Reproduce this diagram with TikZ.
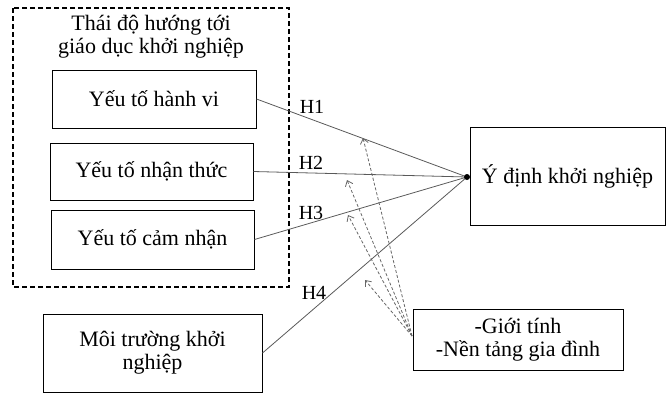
\documentclass[tikz,border=0pt]{standalone}
\usepackage{fontspec}
\setmainfont{Liberation Serif}
\usetikzlibrary{arrows.meta}

\begin{document}
\begin{tikzpicture}[x=1pt,y=-1pt,
    box/.style={draw, line width=1pt, inner sep=0pt, align=center,
      font=\fontsize{22}{23}\selectfont},
    link/.style={draw=black!65, line width=0.8pt},
    ctrl/.style={draw=black!60, dash pattern=on 3pt off 2pt, line width=0.8pt,
      -{Straight Barb[length=5pt,width=8pt]}},
    hlab/.style={font=\fontsize{20}{22}\selectfont}]
    \useasboundingbox (0,0) rectangle (669,394);
    % group of attitude factors
    \draw[dash pattern=on 5pt off 3pt, line width=1.3pt] (13,8) rectangle (289,287);
    \node[align=center, font=\fontsize{22}{23}\selectfont] (grp) at (151,37)
        {Thái độ hướng tới\\giáo dục khởi nghiệp};
    \node[box, minimum width=204pt, minimum height=58pt] (hv) at (154,99) {Yếu tố hành vi};
    \node[box, minimum width=203pt, minimum height=57pt] (nt) at (151.5,171.5) {Yếu tố nhận thức};
    \node[box, minimum width=203pt, minimum height=59pt] (cn) at (152.5,239.5) {Yếu tố cảm nhận};
    \node[box, minimum width=219pt, minimum height=78pt] (mt) at (152.5,353) {Môi trường khởi\\nghiệp};
    % outcome and controls
    \node[box, minimum width=195pt, minimum height=98pt] (yd) at (567.5,176) {Ý định khởi nghiệp};
    \node[box, minimum width=210pt, minimum height=61pt] (kt) at (518,339.5) {-Giới tính\\-Nền tảng gia đình};
    \coordinate (dot) at (467,177);
    \coordinate (src) at (412,336);
    \coordinate (m1) at (363,138);
    \coordinate (m2) at (347,180);
    \coordinate (m3) at (348,215);
    \coordinate (m4) at (365,280);
    \draw[link] (hv.east) -- (dot);
    \draw[link] (nt.east) -- (dot);
    \draw[link] (cn.east) -- (dot);
    \draw[link] (mt.east) -- (dot);
    \fill (dot) circle (3);
    \node[hlab] (h1) at (312,107) {H1};
    \node[hlab] (h2) at (311,163) {H2};
    \node[hlab] (h3) at (311,213) {H3};
    \node[hlab] (h4) at (314,293) {H4};
    \draw[ctrl] (src) -- (m1);
    \draw[ctrl] (src) -- (m2);
    \draw[ctrl] (src) -- (m3);
    \draw[ctrl] (src) -- (m4);
\end{tikzpicture}
\end{document}
